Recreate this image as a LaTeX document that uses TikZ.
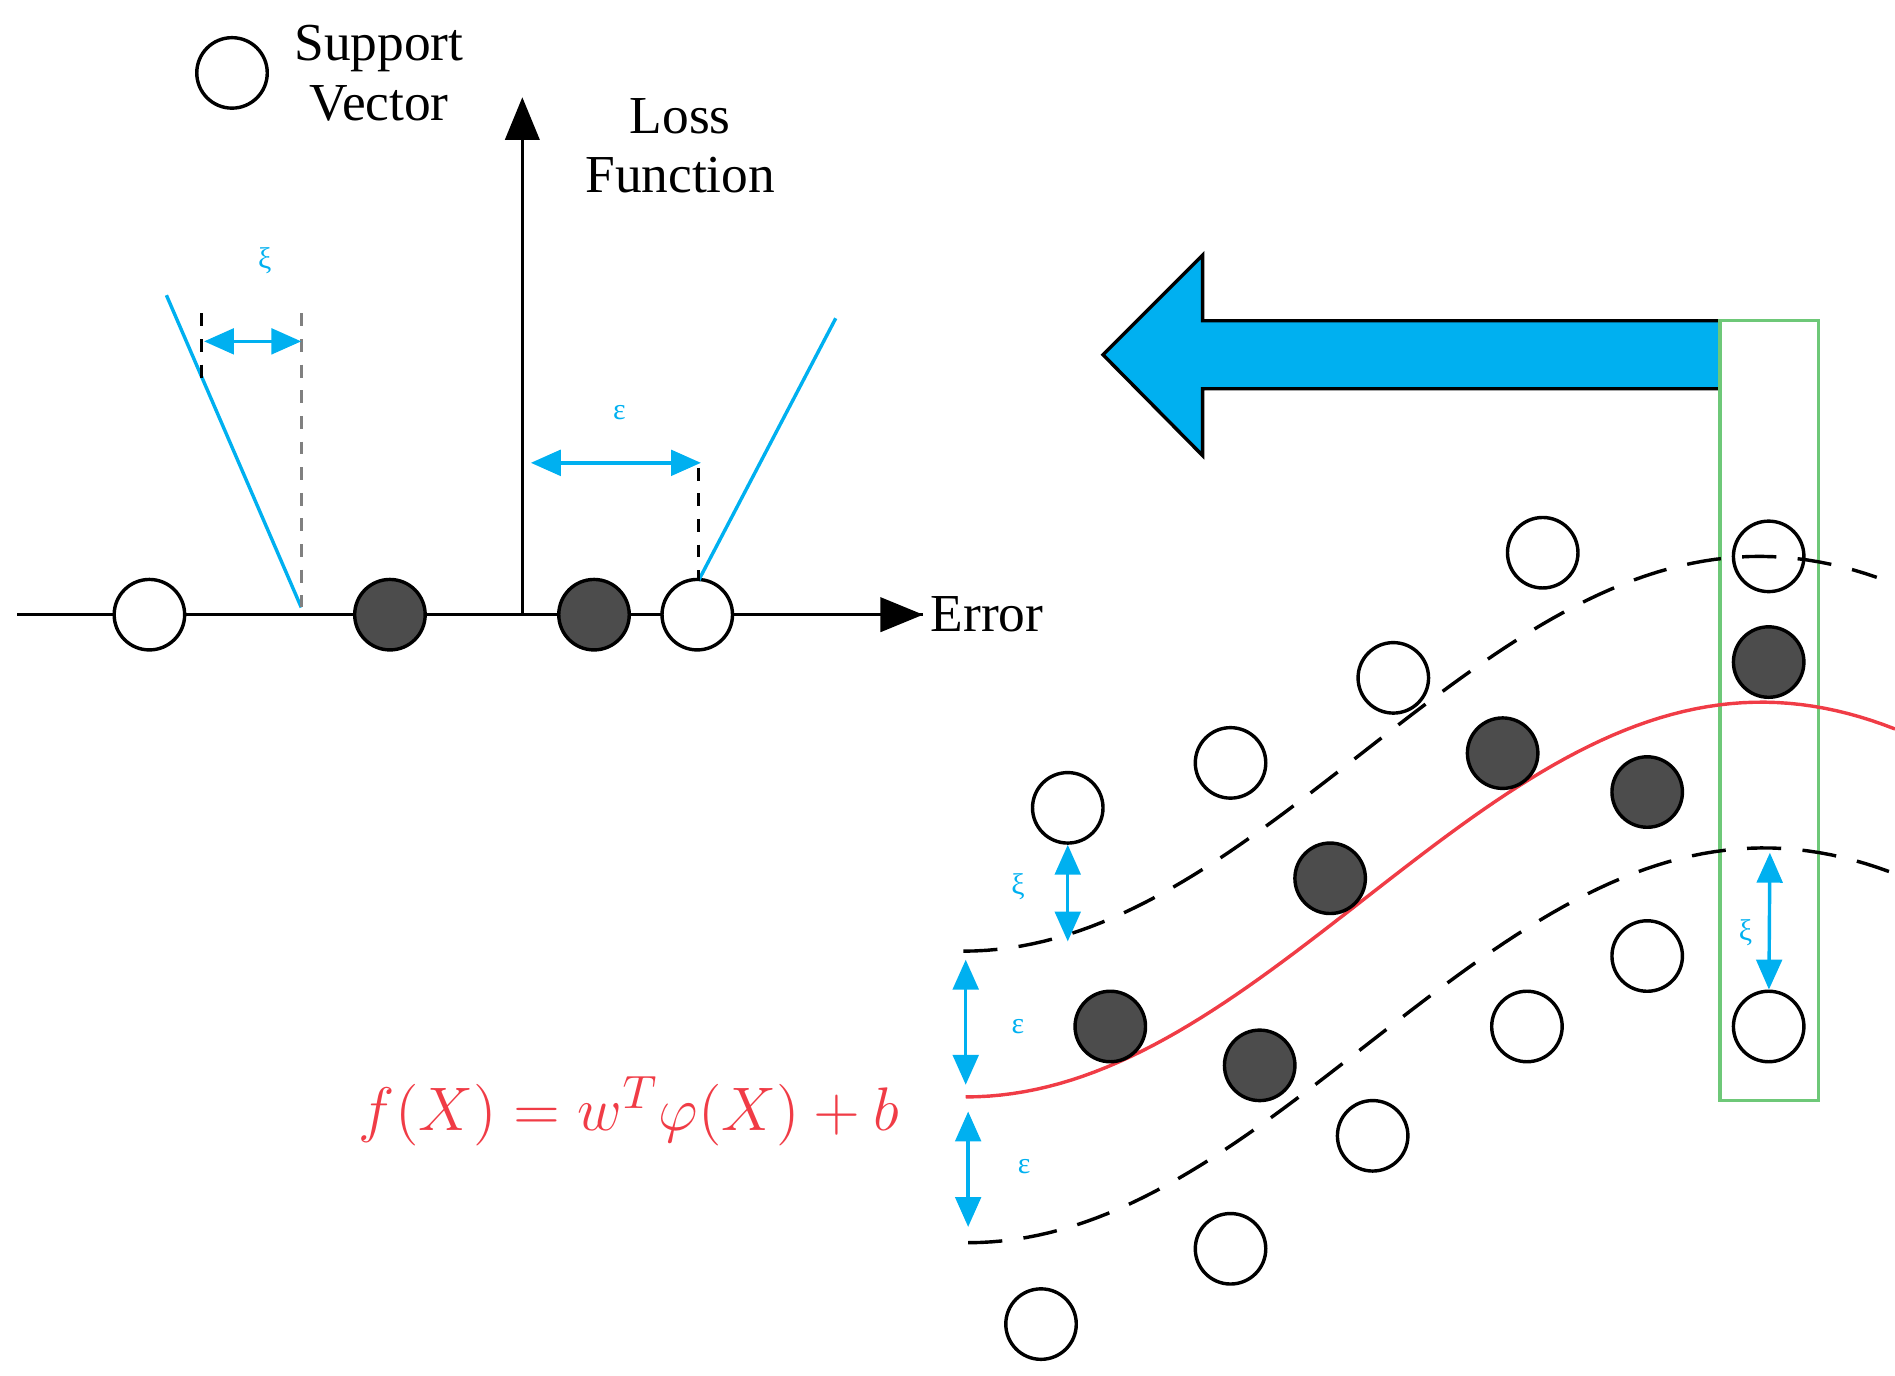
\documentclass[tikz,border=0pt]{standalone}
\usepackage{fontspec}
\setmainfont{Liberation Serif}
\usetikzlibrary{arrows.meta,positioning}
\definecolor{skyblue}{RGB}{0,176,240}
\definecolor{fred}{RGB}{240,60,70}
\definecolor{boxgreen}{RGB}{110,200,120}
\begin{document}
\begin{tikzpicture}[x=0.01cm,y=-0.01cm,
    sv/.style={circle, draw, thick, minimum size=0.58cm, inner sep=0pt},
    pt/.style={circle, draw, thick, fill=black!70, minimum size=0.58cm, inner sep=0pt},
    gap/.style={skyblue, thick, {Triangle[width=6pt,length=7pt]}-{Triangle[width=6pt,length=7pt]}},
    glab/.style={skyblue, font=\scriptsize},
    lab/.style={font=\fontsize{12.5}{14}\selectfont}
]
    \useasboundingbox (0,0) rectangle (1560,1132);

    % legend
    \node[sv] (leg) at (191,60) {};
    \node[lab, align=center] (legt) at (312,60) {Support\\Vector};

    % axes
    \coordinate (o) at (430,506);
    \coordinate (xl) at (14,506);
    \coordinate (xr) at (760,506);
    \coordinate (yt) at (430,80);
    \draw[thick] (xl) -- (xr);
    \draw[thick, -{Triangle[width=8pt,length=10pt]}] (o) -- (yt);
    \draw[thick, -{Triangle[width=8pt,length=10pt]}] (o) -- (xr);
    \node[lab, anchor=west, inner sep=1pt] (err) at (762,506) {Error};
    \node[lab, align=center] (loss) at (560,120) {Loss\\Function};

    \node[sv, fill=white] (a1) at (123,506) {};
    \node[pt] (a2) at (321,506) {};
    \node[pt] (a3) at (489,506) {};
    \node[sv, fill=white] (a4) at (574,506) {};

    % loss function
    \coordinate (l1) at (137,243);
    \coordinate (l2) at (248,500);
    \coordinate (r1) at (575,478);
    \coordinate (r2) at (688,262);
    \draw[skyblue, thick] (l1) -- (l2);
    \draw[skyblue, thick] (r1) -- (r2);
    \coordinate (d1) at (248,258);
    \coordinate (d2) at (166,258);
    \coordinate (d3) at (166,312);
    \coordinate (d4) at (575,385);
    \draw[gray, thick, dashed] (d1) -- (l2);
    \draw[thick, dashed] (d2) -- (d3);
    \draw[thick, dashed] (d4) -- (r1);
    \coordinate (k1) at (168,281);
    \coordinate (k2) at (248,281);
    \coordinate (e1) at (437,381);
    \coordinate (e2) at (577,381);
    \draw[gap] (k1) -- (k2);
    \draw[gap] (e1) -- (e2);
    \node[glab] (kl) at (218,215) {ξ};
    \node[glab] (el) at (510,340) {ε};

    % big arrow
    \draw[thick, fill=skyblue] (1416,264) -- (990,264) -- (990,210) -- (908,292)
        -- (990,375) -- (990,320) -- (1416,320) -- cycle;
    \draw[boxgreen, thick] (1416,264) rectangle (1497,906);

    % regression tube
    \draw[fred, thick] plot[domain=795:1560, samples=80]
        (\x, {740.5+162.5*cos(0.2748*(\x-795))});
    \draw[thick, dashed, dash pattern=on 8pt off 5pt] plot[domain=793:1545, samples=80]
        (\x, {620.5+162.5*cos(0.2748*(\x-793))});
    \draw[thick, dashed, dash pattern=on 8pt off 5pt] plot[domain=797:1555, samples=80]
        (\x, {860.5+162.5*cos(0.2748*(\x-797))});

    \foreach \n/\x/\y in {b1/1270/455, b2/1456/458, b3/1147/558, b4/1013/628, b5/879/665,
        b6/1356/787, b7/1257/845, b8/1456/845, b9/1130/935, b10/1013/1028, b11/857/1090}
        \node[sv] (\n) at (\x,\y) {};
    \foreach \n/\x/\y in {c1/1456/545, c2/1237/620, c3/1356/652, c4/1095/723, c5/914/845, c6/1037/877}
        \node[pt] (\n) at (\x,\y) {};

    \coordinate (m1) at (879,775);
    \coordinate (m2) at (795,790);
    \coordinate (m3) at (795,893);
    \coordinate (m4) at (797,915);
    \coordinate (m5) at (797,1010);
    \coordinate (m6) at (1457,702);
    \draw[gap] (b5) -- (m1);
    \draw[gap] (m2) -- (m3);
    \draw[gap] (m4) -- (m5);
    \draw[gap] (m6) -- (b8);
    \node[glab] at (838,730) {ξ};
    \node[glab] at (838,845) {ε};
    \node[glab] at (843,960) {ε};
    \node[glab] at (1437,768) {ξ};

    \node[fred, font=\fontsize{15}{17}\selectfont] (fx) at (518,915) {$f(X)=w^T\varphi(X)+b$};
\end{tikzpicture}
\end{document}
